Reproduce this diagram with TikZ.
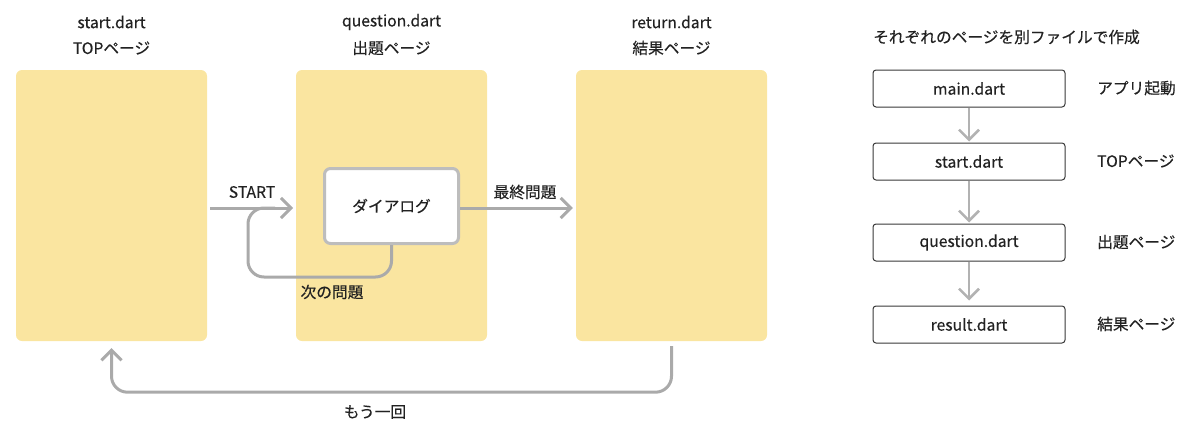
\documentclass[tikz,border=0pt]{standalone}
\usepackage{fontspec}
\setmainfont[RawFeature={embolden=0.35}]{Noto Sans CJK JP}
\usetikzlibrary{arrows.meta}
\definecolor{pageyellow}{HTML}{FAE5A0}
\definecolor{conngray}{HTML}{AAAAAA}
\definecolor{dlggray}{HTML}{BDBDBD}
\definecolor{txt}{HTML}{222222}
\tikzset{
  page/.style={fill=pageyellow, draw=none, rounded corners=6pt, minimum width=191pt, minimum height=271pt, inner sep=0pt},
  dlgbox/.style={fill=white, draw=dlggray, line width=3pt, rounded corners=6pt, minimum width=134pt, minimum height=75pt, font=\fontsize{15.7}{18}\selectfont, text=txt},
  filebox/.style={draw=txt!90, line width=1pt, rounded corners=3pt, minimum width=192pt, minimum height=37pt, font=\fontsize{15.7}{18}\selectfont, text=txt},
  conn/.style={draw=conngray, line width=3pt, -{Straight Barb[length=10pt,width=20pt,line width=3pt]}},
  sconn/.style={draw=conngray!90, line width=2.5pt, -{Straight Barb[length=10pt,width=20pt,line width=2.5pt]}},
  lbl/.style={font=\fontsize{15.7}{18}\selectfont, text=txt, inner sep=0pt},
}
\begin{document}
\begin{tikzpicture}[x=1pt,y=-1pt]
\useasboundingbox (0,0) rectangle (1199,434);
% pages
\node[page] (p1) at (111.5,205.5) {};
\node[page] (p2) at (391.5,205.5) {};
\node[page] (p3) at (671.5,205.5) {};
% titles
\node[lbl] (t1a) at (111.5,22) {start.dart};
\node[lbl] (t1b) at (111.5,48) {TOPページ};
\node[lbl] (t2a) at (391.5,22) {question.dart};
\node[lbl] (t2b) at (391.5,48) {出題ページ};
\node[lbl] (t3a) at (671.5,22) {return.dart};
\node[lbl] (t3b) at (671.5,48) {結果ページ};
% dialog
\node[dlgbox] (dlg) at (391.5,206) {ダイアログ};
% connectors
\coordinate (sa) at (210,208);
\coordinate (sb) at (293,208);
\draw[conn] (sa) -- (sb);
\node[lbl] (startlbl) at (252,192) {START};
\draw[draw=conngray, line width=3pt, rounded corners=16pt] (dlg.south) -- (391.5,277) -- (248,277) -- (248,208) -- (275,208);
\node[lbl] (nextlbl) at (332,292) {次の問題};
\draw[conn, shorten >=3pt] (dlg.east |- sa) -- (p3.west |- sa);
\node[lbl] (lastlbl) at (525,192) {最終問題};
\draw[conn, rounded corners=16pt, shorten <=5pt, shorten >=7pt] (p3.south) -- ++(0,51) -| (p1.south);
\node[lbl] (againlbl) at (375,412) {もう一回};
% right side
\node[lbl, anchor=west] (rtitle) at (873,37) {それぞれのページを別ファイルで作成};
\node[filebox] (f1) at (969,88.5) {main.dart};
\node[filebox] (f2) at (969,161.5) {start.dart};
\node[filebox] (f3) at (969,242.5) {question.dart};
\node[filebox] (f4) at (969,324.5) {result.dart};
\draw[sconn, shorten >=1pt] (f1.south) -- (f2.north);
\draw[sconn, shorten >=1pt] (f2.south) -- (f3.north);
\draw[sconn, shorten >=5pt] (f3.south) -- (f4.north);
\node[lbl, anchor=west] (l1) at (1097,88) {アプリ起動};
\node[lbl, anchor=west] (l2) at (1097,161) {TOPページ};
\node[lbl, anchor=west] (l3) at (1097,242) {出題ページ};
\node[lbl, anchor=west] (l4) at (1097,324) {結果ページ};
\end{tikzpicture}
\end{document}
